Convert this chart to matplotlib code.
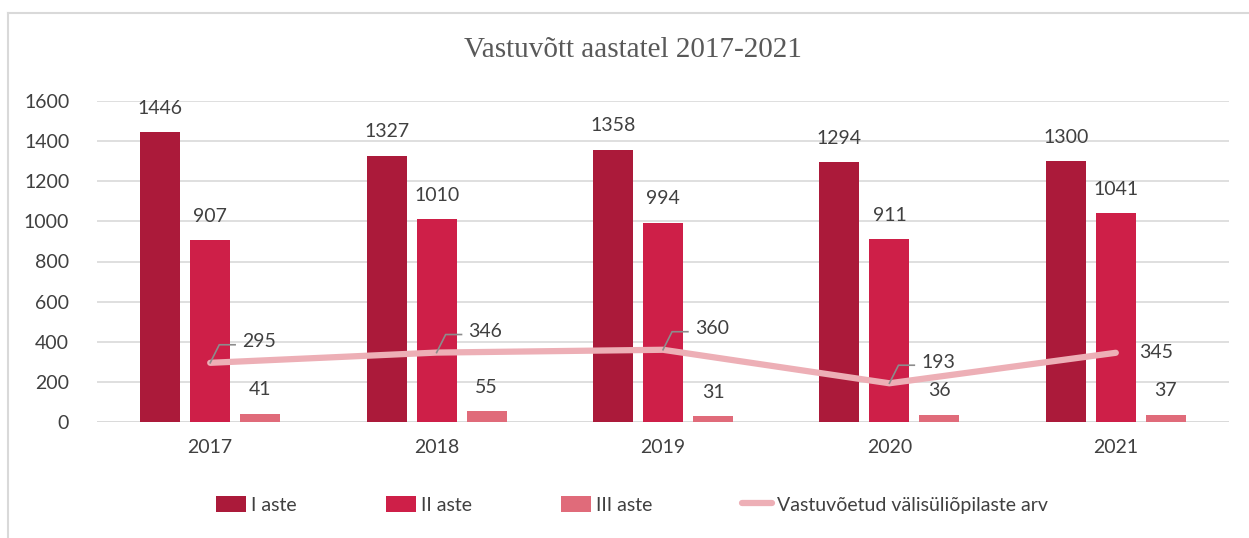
import matplotlib.pyplot as plt
import numpy as np
from matplotlib.lines import Line2D

years = ["2017", "2018", "2019", "2020", "2021"]
aste1 = [1446, 1327, 1358, 1294, 1300]
aste2 = [907, 1010, 994, 911, 1041]
aste3 = [41, 55, 31, 36, 37]
valis = [295, 346, 360, 193, 345]

c1, c2, c3, cl = "#AB1A3A", "#CE1F48", "#E06B7A", "#EDAFB6"
txt = "#404040"
plt.rcParams['font.family'] = ['Lato', 'DejaVu Sans']

fig = plt.figure(figsize=(12.49, 5.38), dpi=100)
W, H = 1249, 538
ax = fig.add_axes([97 / W, 1 - 422 / H, (1229 - 97) / W, (422 - 101) / H])

x = np.arange(len(years))
bw = 0.177
off = 0.221
b1 = ax.bar(x - off, aste1, bw, color=c1, label="I aste", zorder=2)
b2 = ax.bar(x, aste2, bw, color=c2, label="II aste", zorder=2)
b3 = ax.bar(x + off, aste3, bw, color=c3, label="III aste", zorder=2)
ln, = ax.plot(x, valis, color=cl, lw=4.5, solid_capstyle='round', label="Vastuvõetud välisüliõpilaste arv", zorder=3)

for bars in (b1, b2, b3):
    for r in bars:
        ax.annotate(f"{int(r.get_height())}", (r.get_x() + r.get_width() / 2, r.get_height()),
                    xytext=(0, 11), textcoords="offset points", ha="center", va="bottom",
                    fontsize=14, color=txt)

for i, v in enumerate(valis):
    if i < 4:
        ax.plot([x[i], x[i] + 0.04, x[i] + 0.11], [v, v + 90, v + 90], color="#8C8C8C", lw=1.2, zorder=4)
        ax.text(x[i] + 0.14, v + 105, f"{v}", ha="left", va="center", fontsize=14, color=txt)
    else:
        ax.text(x[i] + 0.105, v, f"{v}", ha="left", va="center", fontsize=14, color=txt)

ax.set_xlim(-0.5, 4.5)
ax.set_ylim(0, 1600)
ax.set_yticks(range(0, 1601, 200))
ax.set_xticks(x)
ax.set_xticklabels(years)
ax.tick_params(axis='both', length=0, labelsize=14, labelcolor=txt)
ax.tick_params(axis='x', pad=12)
ax.tick_params(axis='y', pad=20)
ax.grid(axis='y', color="#D9D9D9", lw=1.2, zorder=0)
for s in ax.spines.values():
    s.set_visible(False)
ax.axhline(0, color="#D9D9D9", lw=1.2, zorder=1)

fig.text(633 / W, 1 - 50 / H, "Vastuvõtt aastatel 2017-2021", ha="center", va="center",
         fontsize=21, color="#595959", family=['Liberation Serif'])

leg = fig.legend(handles=[b1, b2, b3, ln], loc="center", bbox_to_anchor=(632 / W, 1 - 505 / H),
                 ncol=4, frameon=False, fontsize=14, handlelength=1.55, handleheight=0.9,
                 columnspacing=4.6, handletextpad=0.25)
for t in leg.get_texts():
    t.set_color(txt)

fig.add_artist(Line2D([8 / W, 8 / W], [0, 1 - 13 / H], transform=fig.transFigure, color="#D9D9D9", lw=1.5))
fig.add_artist(Line2D([8 / W, 1], [1 - 13 / H, 1 - 13 / H], transform=fig.transFigure, color="#D9D9D9", lw=1.5))
fig.savefig("out.png", dpi=100)
